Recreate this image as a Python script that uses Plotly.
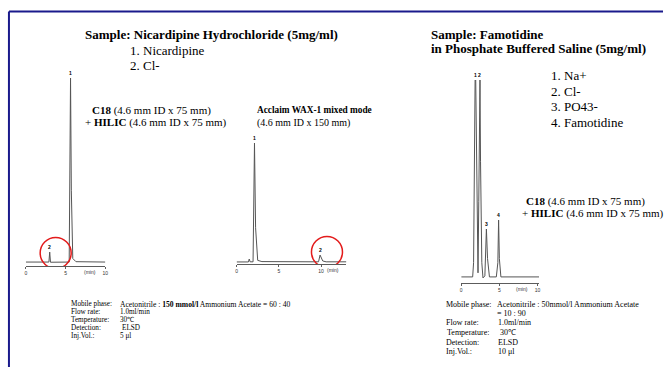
import plotly.graph_objects as go

W, H = 666, 367

# ---------------- data ----------------
# Chromatogram 1: Nicardipine HCl on C18 + HILIC (time in min, relative signal)
c1_time = [0, 2.9, 3.0, 3.1, 5.45, 5.55, 5.62, 5.72, 5.9, 6.3, 10]
c1_signal = [2.1, 2.1, 7.4, 2.0, 2.1, 60, 100, 40, 4, 2.3, 2.1]
c1_peak_time = [5.62, 3.0]
c1_peak_signal = [100, 7.4]
c1_peak_labels = ["1", "2"]
c1_circle = (3.75, 6.9)

# Chromatogram 2: Nicardipine HCl on Acclaim WAX-1
c2_time = [0, 1.4, 1.5, 1.6, 1.95, 2.05, 2.12, 2.25, 2.5, 3.0, 9.7, 9.88, 10.0, 10.2, 10.6, 13]
c2_signal = [1.7, 1.7, 4.1, 1.8, 1.8, 70, 100, 30, 3, 2, 1.8, 7.4, 6, 2.5, 1.8, 1.8]
c2_peak_time = [2.12, 9.88]
c2_peak_signal = [100, 7.4]
c2_peak_labels = ["1", "2"]
c2_circle = (10.7, 9.9)

# Chromatogram 3: Famotidine in PBS on C18 + HILIC
c3_time = [0, 1.5, 1.62, 1.76, 1.82, 1.9, 1.97, 2.1, 2.2, 2.3, 2.38, 2.46, 2.53, 2.7, 2.85, 3.1, 3.3,
           3.45, 3.7, 4.6, 4.8, 4.9, 5.0, 5.2, 10.2]
c3_signal = [3, 3, 10, 85, 100, 100, 70, 10, 5, 40, 100, 100, 60, 10, 2.5, 3.5, 26.6,
             12, 3, 3, 10, 31, 12, 3, 3]
c3_peak_time = [1.86, 2.42, 3.3, 4.9]
c3_peak_signal = [100, 100, 26.6, 31]
c3_peak_labels = ["1", "2", "3", "4"]

tick_vals = [0, 5, 10]
tick_text = ["0", "5", "10"]

SERIF = "Liberation Serif"
SANS = "Liberation Sans"
TRACE_COLOR = "#555555"
AXIS_COLOR = "#333333"


def xd(p0, p1):
    return [p0 / W, p1 / W]


def yd(top, bottom):
    return [1 - bottom / H, 1 - top / H]


fig = go.Figure()

charts = [
    (c1_time, c1_signal, "x", "y"),
    (c2_time, c2_signal, "x2", "y2"),
    (c3_time, c3_signal, "x3", "y3"),
]
for t, s, xa, ya in charts:
    fig.add_trace(go.Scatter(x=t, y=s, xaxis=xa, yaxis=ya, mode="lines",
                             line=dict(color=TRACE_COLOR, width=1),
                             hoverinfo="skip", showlegend=False))

axis_common = dict(showline=True, linecolor=AXIS_COLOR, linewidth=0.8,
                   ticks="outside", ticklen=2, tickwidth=0.8, tickcolor=AXIS_COLOR,
                   tickvals=tick_vals, ticktext=tick_text,
                   tickfont=dict(family=SANS, size=5, color=AXIS_COLOR),
                   showgrid=False, zeroline=False, fixedrange=True)
yaxis_common = dict(visible=False, showgrid=False, zeroline=False, range=[0, 100],
                    fixedrange=True)

fig.update_layout(
    width=W, height=H,
    margin=dict(l=0, r=0, t=0, b=0),
    paper_bgcolor="white", plot_bgcolor="rgba(0,0,0,0)",
    showlegend=False,
    xaxis=dict(domain=xd(25, 105), range=[0, 10], anchor="y", **axis_common),
    yaxis=dict(domain=yd(78, 266), anchor="x", **yaxis_common),
    xaxis2=dict(domain=xd(237, 347.5), range=[0, 13], anchor="y2", **axis_common),
    yaxis2=dict(domain=yd(143, 264), anchor="x2", **yaxis_common),
    xaxis3=dict(domain=xd(463, 541.3), range=[0, 10.2], anchor="y3", **axis_common),
    yaxis3=dict(domain=yd(80, 283), anchor="x3", **yaxis_common),
)

annotations = []
shapes = []

# peak labels
for pt, ps, pl, xr, yr in [(c1_peak_time, c1_peak_signal, c1_peak_labels, "x", "y"),
                           (c2_peak_time, c2_peak_signal, c2_peak_labels, "x2", "y2"),
                           (c3_peak_time, c3_peak_signal, c3_peak_labels, "x3", "y3")]:
    for t, s, lab in zip(pt, ps, pl):
        annotations.append(dict(x=t, y=s, xref=xr, yref=yr, text="<b>%s</b>" % lab,
                                showarrow=False, yanchor="bottom", yshift=0,
                                font=dict(family=SANS, size=5, color="black")))

# "(min)" unit labels on the time axes
for xv, xr, yr in [(9.1, "x", "y"), (12.4, "x2", "y2"), (9.0, "x3", "y3")]:
    annotations.append(dict(x=xv, y=0, xref=xr, yref=yr, text="(min)", showarrow=False,
                            yanchor="top", xanchor="right", yshift=-1,
                            font=dict(family=SANS, size=5, color=AXIS_COLOR)))

# red circles around the chloride peaks
for (cx, cy), xr, yr in [(c1_circle, "x", "y"), (c2_circle, "x2", "y2")]:
    shapes.append(dict(type="circle", xref=xr, yref=yr, xsizemode="pixel",
                       ysizemode="pixel", xanchor=cx, yanchor=cy,
                       x0=-15.5, x1=15.5, y0=-15.5, y1=15.5,
                       line=dict(color="#e31b1b", width=1.5)))

# slide frame
FRAME = "#1a1a8c"
shapes.append(dict(type="line", xref="paper", yref="paper", x0=8 / W, x1=1,
                   y0=1 - 11.5 / H, y1=1 - 11.5 / H, line=dict(color=FRAME, width=2)))
shapes.append(dict(type="line", xref="paper", yref="paper", x0=8 / W, x1=8 / W,
                   y0=1 - 11.5 / H, y1=0, line=dict(color=FRAME, width=2)))


def txt(x, y, s, size, anchor="left"):
    annotations.append(dict(x=x / W, y=1 - y / H, xref="paper", yref="paper", text=s,
                            showarrow=False, xanchor=anchor, yanchor="middle",
                            borderpad=0,
                            font=dict(family=SERIF, size=size, color="black")))


# left headings
txt(84, 34, "<b>Sample: Nicardipine Hydrochloride (5mg/ml)</b>", 13)
txt(129, 50, "1. Nicardipine", 13)
txt(129, 65, "2. Cl-", 13)
txt(91, 110, "<b>C18</b> (4.6 mm ID x 75 mm)", 11)
txt(84, 123, "+ <b>HILIC</b> (4.6 mm ID x 75 mm)", 11)
txt(257, 110, "<b>Acclaim WAX-1 mixed mode</b>", 9.3)
txt(257, 123, "(4.6 mm ID x 150 mm)", 10)

# right headings
txt(432, 34, "<b>Sample: Famotidine</b>", 13)
txt(432, 49, "<b>in Phosphate Buffered Saline (5mg/ml)</b>", 13)
txt(552, 75, "1. Na+", 13)
txt(552, 91, "2. Cl-", 13)
txt(552, 107, "3. PO43-", 13)
txt(552, 123, "4. Famotidine", 13)
txt(527, 201, "<b>C18</b> (4.6 mm ID x 75 mm)", 11)
txt(523, 213, "+ <b>HILIC</b> (4.6 mm ID x 75 mm)", 11)

# left conditions
L_LAB = ["Mobile phase:", "Flow rate:", "Temperature:", "Detection:", "Inj.Vol.:"]
L_VAL = ["Acetonitrile : <b>150 mmol/l</b> Ammonium Acetate = 60 : 40",
         "1.0ml/min", "30\u2103", "ELSD", "5 \u03bcl"]
L_Y = [304, 312, 320, 328, 336]
L_VX = [119, 119, 119, 121, 119]
for lab, val, y, vx in zip(L_LAB, L_VAL, L_Y, L_VX):
    txt(69, y, lab, 7.2)
    txt(vx, y, val, 7.6 if lab.startswith("Mobile") else 7.2)

# right conditions
R_LAB = ["Mobile phase:", "", "Flow rate:", " Temperature:", "Detection:", "Inj.Vol.:"]
R_VAL = ["Acetonitrile : 50mmol/l Ammonium Acetate", "= 10 : 90", "1.0ml/min",
         "30\u2103", "ELSD", "10 \u03bcl"]
R_Y = [304, 313, 322, 332, 342, 351]
R_LX = [447, 447, 447, 448, 447, 447]
R_VX = [498, 498, 499, 501, 499, 499]
for lab, val, y, lx, vx in zip(R_LAB, R_VAL, R_Y, R_LX, R_VX):
    if lab.strip():
        txt(lx, y, lab.strip(), 8)
    txt(vx, y, val, 8)

fig.update_layout(annotations=annotations, shapes=shapes)
fig.write_html("out.html",
               config={"displayModeBar": False, "staticPlot": True},
               post_script="document.body.style.margin='0px';"
                           "document.body.style.padding='0px';")
